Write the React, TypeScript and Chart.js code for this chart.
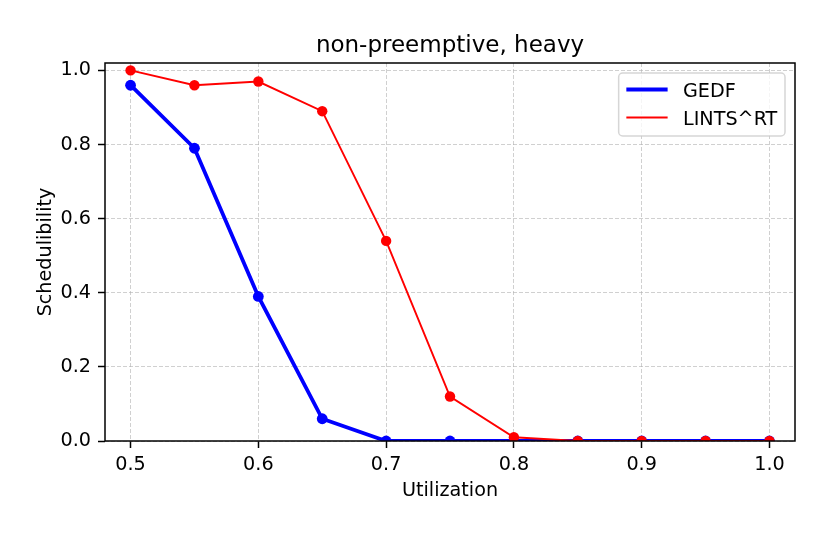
import React, { useEffect, useRef } from "react";
import { Chart, registerables } from "chart.js";

Chart.register(...registerables);

const utilization = [0.5, 0.55, 0.6, 0.65, 0.7, 0.75, 0.8, 0.85, 0.9, 0.95, 1.0];
const gedf = [0.96, 0.79, 0.39, 0.06, 0, 0, 0, 0, 0, 0, 0];
const lintsRT = [1.0, 0.96, 0.97, 0.89, 0.54, 0.12, 0.01, 0, 0, 0, 0];
const xTicks = [0.5, 0.6, 0.7, 0.8, 0.9, 1.0];
const yTicks = [0.0, 0.2, 0.4, 0.6, 0.8, 1.0];
const seriesNames = ["GEDF", "LINTS^RT"];
const titleText = "non-preemptive, heavy";
const xLabel = "Utilization";
const yLabel = "Schedulibility";

const FONT = "'DejaVu Sans', sans-serif";
const FS = 19.2;

const framePlugin = {
  id: "mplFrame",
  afterDatasetsDraw(chart: any) {
    const { ctx, chartArea } = chart;
    ctx.save();
    ctx.strokeStyle = "#000";
    ctx.lineWidth = 1.5;
    ctx.strokeRect(chartArea.left, chartArea.top, chartArea.right - chartArea.left, chartArea.bottom - chartArea.top);
    ctx.restore();
  },
};

const titlePlugin = {
  id: "mplTitle",
  afterDraw(chart: any) {
    const { ctx, chartArea } = chart;
    ctx.save();
    ctx.font = `23px ${FONT}`;
    ctx.fillStyle = "#000";
    ctx.textAlign = "center";
    ctx.textBaseline = "alphabetic";
    ctx.fillText(titleText, (chartArea.left + chartArea.right) / 2, chartArea.top - 11);
    ctx.restore();
  },
};

const legendPlugin = {
  id: "mplLegend",
  afterDraw(chart: any) {
    const { ctx, chartArea } = chart;
    ctx.save();
    ctx.font = `${FS}px ${FONT}`;
    const ds = chart.data.datasets;
    let tw = 0;
    ds.forEach((d: any) => {
      tw = Math.max(tw, ctx.measureText(d.label).width);
    });
    const pad = 0.4 * FS;
    const handle = 2.15 * FS;
    const textPad = 0.8 * FS;
    const boxW = pad * 2 + handle + textPad + tw;
    const boxH = 63;
    const boxRight = chartArea.right - 10;
    const boxLeft = boxRight - boxW;
    const boxTop = chartArea.top + 10;
    ctx.beginPath();
    if ((ctx as any).roundRect) (ctx as any).roundRect(boxLeft, boxTop, boxW, boxH, 4);
    else ctx.rect(boxLeft, boxTop, boxW, boxH);
    ctx.fillStyle = "rgba(255,255,255,0.8)";
    ctx.fill();
    ctx.strokeStyle = "rgba(204,204,204,0.8)";
    ctx.lineWidth = 1.5;
    ctx.stroke();
    ds.forEach((d: any, i: number) => {
      const y = boxTop + 16.5 + i * 28;
      const x0 = boxLeft + pad;
      ctx.beginPath();
      ctx.strokeStyle = d.borderColor;
      ctx.lineWidth = d.borderWidth;
      ctx.moveTo(x0, y);
      ctx.lineTo(x0 + handle, y);
      ctx.stroke();
      ctx.fillStyle = "#000";
      ctx.textBaseline = "alphabetic";
      ctx.textAlign = "left";
      ctx.fillText(d.label, x0 + handle + textPad, y + 0.365 * FS);
    });
    ctx.restore();
  },
};

export default function App() {
  const ref = useRef<HTMLCanvasElement>(null);
  useEffect(() => {
    if (!ref.current) return;
    const gridColor = "rgba(176,176,176,0.6)";
    const gridOpts: any = {
      color: gridColor,
      lineWidth: 1,
      drawTicks: true,
      tickLength: 7,
      tickColor: "#000",
      tickWidth: 1.5,
      tickBorderDash: [],
    };
    const borderOpts: any = { display: false, dash: [4, 2] };
    const chart = new Chart(ref.current, {
      type: "line",
      data: {
        datasets: [
          {
            label: seriesNames[0],
            data: utilization.map((u, i) => ({ x: u, y: gedf[i] })),
            borderColor: "#0000ff",
            backgroundColor: "#0000ff",
            borderWidth: 3.84,
            pointRadius: 5.4,
            pointBorderWidth: 0,
            pointBackgroundColor: "#0000ff",
            fill: false,
            tension: 0,
            clip: 0,
            order: 2,
          },
          {
            label: seriesNames[1],
            data: utilization.map((u, i) => ({ x: u, y: lintsRT[i] })),
            borderColor: "#ff0000",
            backgroundColor: "#ff0000",
            borderWidth: 1.92,
            pointRadius: 5.2,
            pointBorderWidth: 0,
            pointBackgroundColor: "#ff0000",
            fill: false,
            tension: 0,
            clip: 0,
            order: 1,
          },
        ],
      },
      options: {
        animation: false,
        responsive: false,
        devicePixelRatio: 1,
        layout: { padding: { left: 0, right: 35, top: 63, bottom: 0 } },
        plugins: {
          legend: { display: false },
          tooltip: { enabled: false },
          title: { display: false },
        },
        scales: {
          x: {
            type: "linear",
            min: 0.48,
            max: 1.02,
            afterBuildTicks: (s: any) => {
              s.ticks = xTicks.map((v) => ({ value: v }));
            },
            afterFit: (s: any) => {
              s.height = 94;
            },
            ticks: {
              color: "#000",
              font: { family: FONT, size: FS },
              padding: 5,
              maxRotation: 0,
              autoSkip: false,
              callback: (v: any) => Number(v).toFixed(1),
            },
            grid: gridOpts,
            border: borderOpts,
            title: {
              display: true,
              text: xLabel,
              color: "#000",
              font: { family: FONT, size: FS },
              padding: { top: 0, bottom: 32.6 },
            },
          },
          y: {
            type: "linear",
            min: 0,
            max: 1.02,
            afterBuildTicks: (s: any) => {
              s.ticks = yTicks.map((v) => ({ value: v }));
            },
            afterFit: (s: any) => {
              s.width = 105;
            },
            ticks: {
              color: "#000",
              font: { family: FONT, size: FS },
              padding: 7,
              autoSkip: false,
              callback: (v: any) => Number(v).toFixed(1),
            },
            grid: gridOpts,
            border: borderOpts,
            title: {
              display: true,
              text: yLabel,
              color: "#000",
              font: { family: FONT, size: FS },
              padding: { top: 34.4, bottom: 0 },
            },
          },
        },
      },
      plugins: [framePlugin, titlePlugin, legendPlugin],
    } as any);
    return () => chart.destroy();
  }, []);
  return (
    <div style={{ position: "fixed", left: 0, top: 0, width: 830, height: 535, background: "#fff" }}>
      <canvas ref={ref} width={830} height={535} style={{ width: 830, height: 535, display: "block" }} />
    </div>
  );
}
